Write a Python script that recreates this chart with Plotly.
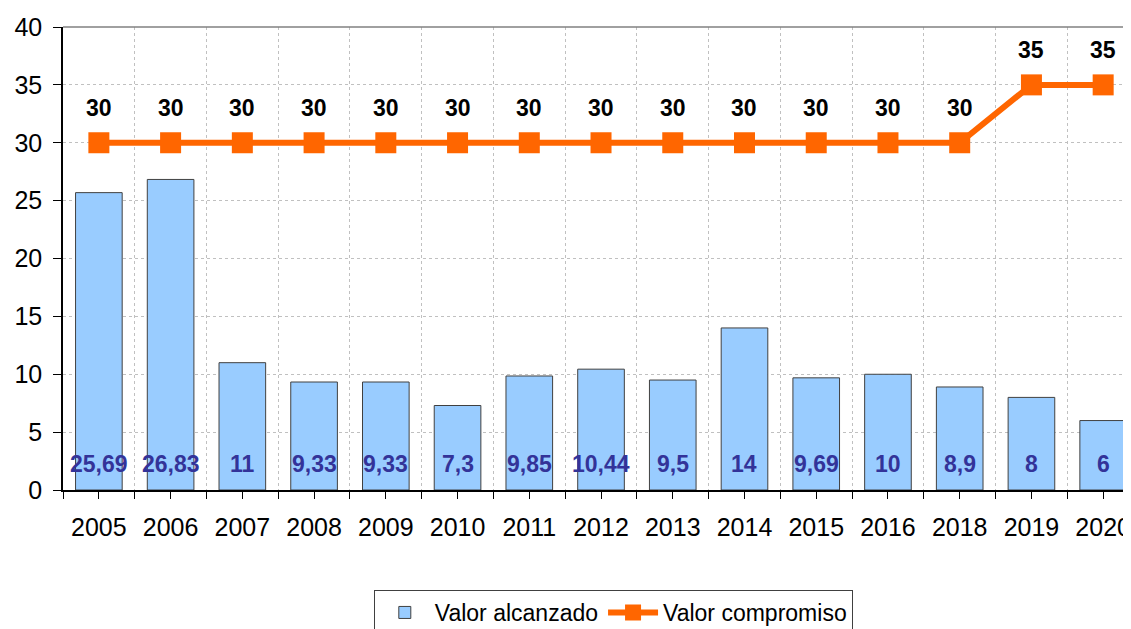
import plotly.graph_objects as go

years = ["2005", "2006", "2007", "2008", "2009", "2010", "2011", "2012",
         "2013", "2014", "2015", "2016", "2018", "2019", "2020"]
valor_alcanzado = [25.69, 26.83, 11, 9.33, 9.33, 7.3, 9.85, 10.44,
                   9.5, 14, 9.69, 10, 8.9, 8, 6]
valor_compromiso = [30, 30, 30, 30, 30, 30, 30, 30, 30, 30, 30, 30, 30, 35, 35]
y_ticks = [0, 5, 10, 15, 20, 25, 30, 35, 40]

FONT = "Liberation Sans, Arial, sans-serif"
xs = list(range(len(years)))


def fmt(v):
    s = ("%g" % v)
    return s.replace(".", ",")


fig = go.Figure()
fig.add_trace(go.Bar(
    x=xs, y=valor_alcanzado, name="Valor alcanzado", width=0.65,
    marker=dict(color="#99CCFF", line=dict(color="#404040", width=1)),
))
fig.add_trace(go.Scatter(
    x=xs, y=valor_compromiso, name="Valor compromiso", mode="lines+markers",
    line=dict(color="#FF6600", width=6),
    marker=dict(symbol="square", size=21, color="#FF6600"),
))

annotations = []
for x, v in zip(xs, valor_alcanzado):
    annotations.append(dict(x=x, y=0, xref="x", yref="y", text="<b>%s</b>" % fmt(v),
                            showarrow=False, yanchor="middle", yshift=26,
                            font=dict(family=FONT, size=23, color="#333399")))
for x, v in zip(xs, valor_compromiso):
    annotations.append(dict(x=x, y=v, xref="x", yref="y", text="<b>%s</b>" % fmt(v),
                            showarrow=False, yanchor="middle", yshift=35,
                            font=dict(family=FONT, size=23, color="#000000")))

fig.update_layout(
    width=1123, height=621,
    margin=dict(l=55, r=0, t=19, b=139),
    paper_bgcolor="white", plot_bgcolor="white",
    font=dict(family=FONT, color="#000000"),
    annotations=annotations,
    showlegend=True,
    legend=dict(orientation="h", xref="container", yref="container",
                x=0.539, xanchor="center", y=1 - 582 / 621, yanchor="top",
                bordercolor="#404040", borderwidth=1,
                font=dict(family=FONT, size=23, color="#000000"),
                itemwidth=50, tracegroupgap=0),
    shapes=[dict(type="line", xref="paper", yref="paper", x0=0, x1=1, y0=1, y1=1,
                 line=dict(color="#808080", width=1.5))],
)
fig.update_xaxes(
    range=[-0.5, 14.36], tickmode="array", tickvals=xs, ticktext=years,
    ticks="outside", ticklen=7, tickcolor="#000000", tickwidth=1,
    showgrid=False, zeroline=False,
    showline=True, linecolor="#000000", linewidth=1.5,
    tickfont=dict(family=FONT, size=25, color="#000000"),
    ticklabelstandoff=7, ticklabeloverflow="allow",
    minor=dict(tickvals=[i - 0.5 for i in range(len(years) + 1)],
               ticks="outside", ticklen=7, tickcolor="#000000",
               showgrid=True, gridcolor="#C0C0C0", griddash="3px,3px", gridwidth=1),
)
fig.update_yaxes(
    range=[0, 40], tickmode="array", tickvals=y_ticks,
    ticks="outside", ticklen=8, tickcolor="#000000",
    showgrid=True, gridcolor="#C0C0C0", griddash="3px,3px", gridwidth=1,
    zeroline=False, showline=True, linecolor="#000000", linewidth=1.5,
    tickfont=dict(family=FONT, size=25, color="#000000"),
    ticklabelstandoff=6,
)

fig.write_html("out.html")
